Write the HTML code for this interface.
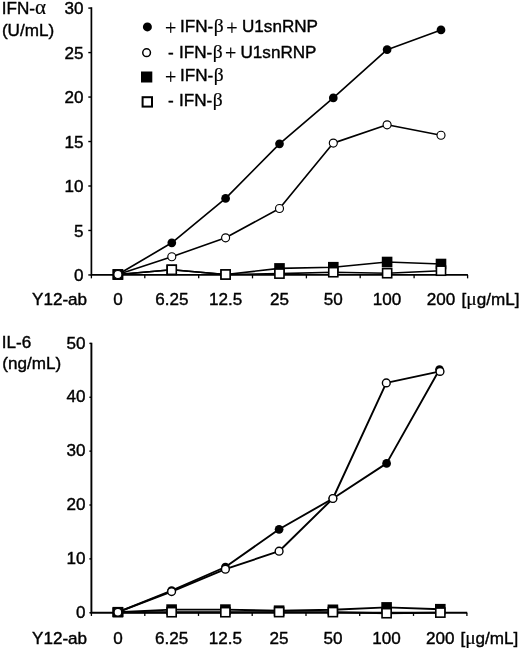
<!DOCTYPE html>
<html><head><meta charset="utf-8"><title>Figure</title>
<style>
html,body{margin:0;padding:0;background:#fff;}
svg{display:block;will-change:transform;opacity:0.999}
text{font-family:"Liberation Sans",sans-serif;font-size:17.1px;fill:#000;stroke:#000;stroke-width:0.4px;}
.sym{font-family:"Liberation Serif","DejaVu Serif",serif;font-size:19.5px;stroke-width:0.2px;}
.plus{font-family:"Liberation Serif","DejaVu Serif",serif;font-size:20px;stroke-width:0.2px;}
</style></head><body>
<svg width="520" height="650" viewBox="0 0 520 650">
<rect width="520" height="650" fill="#fff"/>
<path d="M91.4 7.30 V274.95 H467.9" fill="none" stroke="#000" stroke-width="1.7"/>
<path d="M88.3 8.10 H91.4" stroke="#000" stroke-width="1.4"/>
<text x="83.4" y="14.2" text-anchor="end">30</text>
<path d="M88.3 52.58 H91.4" stroke="#000" stroke-width="1.4"/>
<text x="83.4" y="58.7" text-anchor="end">25</text>
<path d="M88.3 97.05 H91.4" stroke="#000" stroke-width="1.4"/>
<text x="83.4" y="103.1" text-anchor="end">20</text>
<path d="M88.3 141.53 H91.4" stroke="#000" stroke-width="1.4"/>
<text x="83.4" y="147.6" text-anchor="end">15</text>
<path d="M88.3 186.00 H91.4" stroke="#000" stroke-width="1.4"/>
<text x="83.4" y="192.1" text-anchor="end">10</text>
<path d="M88.3 230.47 H91.4" stroke="#000" stroke-width="1.4"/>
<text x="83.4" y="236.6" text-anchor="end">5</text>
<path d="M88.3 274.95 H91.4" stroke="#000" stroke-width="1.4"/>
<text x="83.4" y="281.1" text-anchor="end">0</text>
<path d="M91.4 274.95 V278.34999999999997" stroke="#000" stroke-width="1.3"/>
<path d="M144.8 274.95 V278.34999999999997" stroke="#000" stroke-width="1.3"/>
<path d="M198.7 274.95 V278.34999999999997" stroke="#000" stroke-width="1.3"/>
<path d="M252.5 274.95 V278.34999999999997" stroke="#000" stroke-width="1.3"/>
<path d="M306.4 274.95 V278.34999999999997" stroke="#000" stroke-width="1.3"/>
<path d="M360.2 274.95 V278.34999999999997" stroke="#000" stroke-width="1.3"/>
<path d="M414.1 274.95 V278.34999999999997" stroke="#000" stroke-width="1.3"/>
<path d="M467.6 274.95 V278.34999999999997" stroke="#000" stroke-width="1.3"/>
<polyline points="117.9,274.5 171.8,269.8 225.6,274.5 279.5,268.4 333.3,267.2 387.1,262.0 441.0,264.0" fill="none" stroke="#000" stroke-width="1.65" stroke-linejoin="round"/>
<rect x="112.6" y="269.2" width="10.6" height="10.6" fill="#000"/>
<rect x="166.4" y="264.5" width="10.6" height="10.6" fill="#000"/>
<rect x="220.3" y="269.2" width="10.6" height="10.6" fill="#000"/>
<rect x="274.2" y="263.1" width="10.6" height="10.6" fill="#000"/>
<rect x="328.0" y="261.9" width="10.6" height="10.6" fill="#000"/>
<rect x="381.8" y="256.7" width="10.6" height="10.6" fill="#000"/>
<rect x="435.7" y="258.7" width="10.6" height="10.6" fill="#000"/>
<polyline points="117.9,274.5 171.8,269.8 225.6,274.5 279.5,273.6 333.3,272.2 387.1,273.2 441.0,270.7" fill="none" stroke="#000" stroke-width="1.65" stroke-linejoin="round"/>
<rect x="112.55" y="269.15" width="10.7" height="10.7" fill="#000"/>
<rect x="167.20" y="265.25" width="9.1" height="9.1" fill="#fff" stroke="#000" stroke-width="1.6"/>
<rect x="221.05" y="269.95" width="9.1" height="9.1" fill="#fff" stroke="#000" stroke-width="1.6"/>
<rect x="274.90" y="269.05" width="9.1" height="9.1" fill="#fff" stroke="#000" stroke-width="1.6"/>
<rect x="328.75" y="267.65" width="9.1" height="9.1" fill="#fff" stroke="#000" stroke-width="1.6"/>
<rect x="382.60" y="268.65" width="9.1" height="9.1" fill="#fff" stroke="#000" stroke-width="1.6"/>
<rect x="436.45" y="266.15" width="9.1" height="9.1" fill="#fff" stroke="#000" stroke-width="1.6"/>
<polyline points="117.9,274.5 171.8,242.8 225.6,198.4 279.5,143.8 333.3,97.9 387.1,49.7 441.0,29.9" fill="none" stroke="#000" stroke-width="1.65" stroke-linejoin="round"/>
<circle cx="117.9" cy="274.5" r="4.35" fill="#000"/>
<circle cx="171.8" cy="242.8" r="4.35" fill="#000"/>
<circle cx="225.6" cy="198.4" r="4.35" fill="#000"/>
<circle cx="279.5" cy="143.8" r="4.35" fill="#000"/>
<circle cx="333.3" cy="97.9" r="4.35" fill="#000"/>
<circle cx="387.1" cy="49.7" r="4.35" fill="#000"/>
<circle cx="441.0" cy="29.9" r="4.35" fill="#000"/>
<polyline points="117.9,274.5 171.8,256.7 225.6,237.8 279.5,208.5 333.3,143.1 387.1,124.8 441.0,135.2" fill="none" stroke="#000" stroke-width="1.65" stroke-linejoin="round"/>
<circle cx="117.9" cy="274.5" r="4.0" fill="#fff" stroke="#000" stroke-width="1.15"/>
<circle cx="171.8" cy="256.7" r="4.0" fill="#fff" stroke="#000" stroke-width="1.15"/>
<circle cx="225.6" cy="237.8" r="4.0" fill="#fff" stroke="#000" stroke-width="1.15"/>
<circle cx="279.5" cy="208.5" r="4.0" fill="#fff" stroke="#000" stroke-width="1.15"/>
<circle cx="333.3" cy="143.1" r="4.0" fill="#fff" stroke="#000" stroke-width="1.15"/>
<circle cx="387.1" cy="124.8" r="4.0" fill="#fff" stroke="#000" stroke-width="1.15"/>
<circle cx="441.0" cy="135.2" r="4.0" fill="#fff" stroke="#000" stroke-width="1.15"/>
<text x="117.9" y="304.6" text-anchor="middle">0</text>
<text x="171.8" y="304.6" text-anchor="middle">6.25</text>
<text x="225.6" y="304.6" text-anchor="middle">12.5</text>
<text x="279.5" y="304.6" text-anchor="middle">25</text>
<text x="333.3" y="304.6" text-anchor="middle">50</text>
<text x="387.1" y="304.6" text-anchor="middle">100</text>
<text x="441.0" y="304.6" text-anchor="middle">200</text>
<text x="461.5" y="304.6">[<tspan class="sym">μ</tspan>g/mL]</text>
<text x="32.0" y="304.6">Y12-ab</text>
<text x="1.8" y="14.1">IFN-<tspan class="sym" style="font-size:21px">α</tspan></text>
<text x="1.9" y="36.3">(U/mL)</text>

<circle cx="147.4" cy="26.9" r="4.5" fill="#000"/>
<circle cx="146.6" cy="52.7" r="3.85" fill="#fff" stroke="#000" stroke-width="1.5"/>
<rect x="141.0" y="71.5" width="11.3" height="11.0" fill="#000"/>
<rect x="142.6" y="97.2" width="9.4" height="9.4" fill="#fff" stroke="#000" stroke-width="2.0"/>
<text x="164.9" y="34.6" class="plus">+</text><text x="180.0" y="32">IFN-<tspan class="sym" dx="0.4">β</tspan></text><text x="226.3" y="34.6" class="plus">+</text><text x="242" y="32">U1snRNP</text>
<text x="168.1" y="57.6">-</text><text x="179" y="57.6">IFN-<tspan class="sym" dx="0.4">β</tspan></text><text x="224.9" y="60.2" class="plus">+</text><text x="240.5" y="57.6">U1snRNP</text>
<text x="164.9" y="83.6" class="plus">+</text><text x="180.0" y="81">IFN-<tspan class="sym" dx="0.4">β</tspan></text>
<text x="168.1" y="105.6">-</text><text x="179" y="105.6">IFN-<tspan class="sym" dx="0.4">β</tspan></text>

<path d="M91.4 342.70 V612.75 H467.2" fill="none" stroke="#000" stroke-width="1.9"/>
<path d="M89.4 343.40 H91.4" stroke="#000" stroke-width="1.4"/>
<text x="85.6" y="348.5" text-anchor="end">50</text>
<path d="M89.4 397.27 H91.4" stroke="#000" stroke-width="1.4"/>
<text x="85.6" y="402.4" text-anchor="end">40</text>
<path d="M89.4 451.14 H91.4" stroke="#000" stroke-width="1.4"/>
<text x="85.6" y="456.2" text-anchor="end">30</text>
<path d="M89.4 505.01 H91.4" stroke="#000" stroke-width="1.4"/>
<text x="85.6" y="510.1" text-anchor="end">20</text>
<path d="M89.4 558.88 H91.4" stroke="#000" stroke-width="1.4"/>
<text x="85.6" y="564.0" text-anchor="end">10</text>
<path d="M89.4 612.75 H91.4" stroke="#000" stroke-width="1.4"/>
<text x="85.6" y="617.9" text-anchor="end">0</text>
<path d="M91.4 612.75 V615.95" stroke="#000" stroke-width="1.3"/>
<path d="M144.8 612.75 V615.95" stroke="#000" stroke-width="1.3"/>
<path d="M198.5 612.75 V615.95" stroke="#000" stroke-width="1.3"/>
<path d="M252.2 612.75 V615.95" stroke="#000" stroke-width="1.3"/>
<path d="M306.0 612.75 V615.95" stroke="#000" stroke-width="1.3"/>
<path d="M359.7 612.75 V615.95" stroke="#000" stroke-width="1.3"/>
<path d="M413.5 612.75 V615.95" stroke="#000" stroke-width="1.3"/>
<path d="M466.9 612.75 V615.95" stroke="#000" stroke-width="1.3"/>
<polyline points="117.9,612.2 171.6,609.6 225.4,609.6 279.1,610.7 332.9,609.8 386.6,607.4 440.3,609.2" fill="none" stroke="#000" stroke-width="1.9" stroke-linejoin="round"/>
<rect x="112.6" y="606.9" width="10.6" height="10.6" fill="#000"/>
<rect x="166.3" y="604.3" width="10.6" height="10.6" fill="#000"/>
<rect x="220.1" y="604.3" width="10.6" height="10.6" fill="#000"/>
<rect x="273.8" y="605.4" width="10.6" height="10.6" fill="#000"/>
<rect x="327.6" y="604.5" width="10.6" height="10.6" fill="#000"/>
<rect x="381.3" y="602.1" width="10.6" height="10.6" fill="#000"/>
<rect x="435.0" y="603.9" width="10.6" height="10.6" fill="#000"/>
<polyline points="117.9,612.2 171.6,612.2 225.4,612.2 279.1,612.1 332.9,612.1 386.6,613.2 440.3,612.6" fill="none" stroke="#000" stroke-width="1.9" stroke-linejoin="round"/>
<rect x="112.35" y="607.40" width="11.1" height="9.6" fill="#000"/>
<rect x="167.09" y="607.65" width="9.1" height="9.1" fill="#fff" stroke="#000" stroke-width="1.6"/>
<rect x="220.83" y="607.65" width="9.1" height="9.1" fill="#fff" stroke="#000" stroke-width="1.6"/>
<rect x="274.57" y="607.55" width="9.1" height="9.1" fill="#fff" stroke="#000" stroke-width="1.6"/>
<rect x="328.31" y="607.55" width="9.1" height="9.1" fill="#fff" stroke="#000" stroke-width="1.6"/>
<rect x="382.05" y="608.65" width="9.1" height="9.1" fill="#fff" stroke="#000" stroke-width="1.6"/>
<rect x="435.79" y="608.05" width="9.1" height="9.1" fill="#fff" stroke="#000" stroke-width="1.6"/>
<polyline points="117.9,612.2 171.6,590.7 225.4,567.0 279.1,529.3 332.9,498.5 386.6,463.4 439.5,369.5" fill="none" stroke="#000" stroke-width="1.9" stroke-linejoin="round"/>
<circle cx="117.9" cy="612.2" r="4.35" fill="#000"/>
<circle cx="171.6" cy="590.7" r="4.35" fill="#000"/>
<circle cx="225.4" cy="567.0" r="4.35" fill="#000"/>
<circle cx="279.1" cy="529.3" r="4.35" fill="#000"/>
<circle cx="332.9" cy="498.5" r="4.35" fill="#000"/>
<circle cx="386.6" cy="463.4" r="4.35" fill="#000"/>
<circle cx="439.5" cy="369.5" r="4.35" fill="#000"/>
<polyline points="117.9,612.2 171.6,591.6 225.4,569.2 279.1,551.2 332.9,498.5 386.3,382.9 440.0,371.4" fill="none" stroke="#000" stroke-width="1.9" stroke-linejoin="round"/>
<circle cx="117.9" cy="612.2" r="3.9" fill="#fff" stroke="#000" stroke-width="1.4"/>
<circle cx="171.6" cy="591.6" r="3.9" fill="#fff" stroke="#000" stroke-width="1.4"/>
<circle cx="225.4" cy="569.2" r="3.9" fill="#fff" stroke="#000" stroke-width="1.4"/>
<circle cx="279.1" cy="551.2" r="3.9" fill="#fff" stroke="#000" stroke-width="1.4"/>
<circle cx="332.9" cy="498.5" r="3.9" fill="#fff" stroke="#000" stroke-width="1.4"/>
<circle cx="386.3" cy="382.9" r="3.9" fill="#fff" stroke="#000" stroke-width="1.4"/>
<circle cx="440.0" cy="371.4" r="3.9" fill="#fff" stroke="#000" stroke-width="1.4"/>
<text x="117.9" y="644.0" text-anchor="middle">0</text>
<text x="171.6" y="644.0" text-anchor="middle">6.25</text>
<text x="225.4" y="644.0" text-anchor="middle">12.5</text>
<text x="279.1" y="644.0" text-anchor="middle">25</text>
<text x="332.9" y="644.0" text-anchor="middle">50</text>
<text x="386.6" y="644.0" text-anchor="middle">100</text>
<text x="440.3" y="644.0" text-anchor="middle">200</text>
<text x="460.4" y="644.0">[<tspan class="sym">μ</tspan>g/mL]</text>
<text x="32.0" y="644.0">Y12-ab</text>
<text x="1.8" y="348.4">IL-6</text>
<text x="2.3" y="368.7">(ng/mL)</text>
</svg>
</body></html>
